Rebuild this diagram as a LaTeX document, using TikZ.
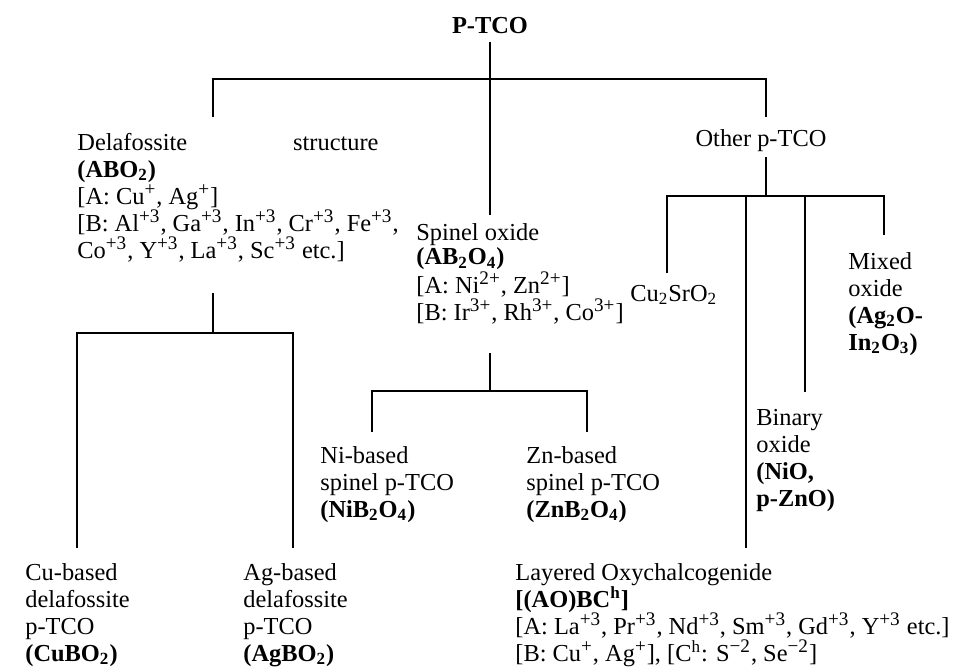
\documentclass[tikz,border=0pt]{standalone}
\usepackage{fontspec}
\setmainfont{Liberation Serif}
\newcommand{\chg}[1]{\textsuperscript{\fontsize{9.6}{10}\selectfont #1}}
\begin{document}
\begin{tikzpicture}[x=0.5pt,y=-0.5pt,
  txt/.style={inner sep=0pt, anchor=base west, align=left, font=\fontsize{12.2}{13.5}\selectfont},
  tight/.style={font=\fontsize{12.2}{12.25}\selectfont},
  link/.style={line width=1.1pt, black}]
\useasboundingbox (0,0) rectangle (954,671);
\fill[white] (0,0) rectangle (954,671);

% text nodes (multi-line nodes are placed by the baseline of their last line)
\node[txt, anchor=base] (ptco) at (490,33) {\textbf{P-TCO}};
\node[txt] (dela) at (77,258) {Delafossite\hspace{53pt}structure\\%
\textbf{(ABO\textsubscript{2})}\\%
{}[A: Cu\chg{+}, Ag\chg{+}]\\%
{}[B: Al\chg{+3}, Ga\chg{+3}, In\chg{+3}, Cr\chg{+3}, Fe\chg{+3},\\%
Co\chg{+3}, Y\chg{+3}, La\chg{+3}, Sc\chg{+3} etc.]};
\node[txt, tight] (spinel) at (416,320.5) {Spinel oxide\\%
\textbf{(AB\textsubscript{2}O\textsubscript{4})}\\%
{}[A: Ni\chg{2+}, Zn\chg{2+}]\\%
{}[B: Ir\chg{3+}, Rh\chg{3+}, Co\chg{3+}]};
\node[txt, anchor=base] (other) at (761,146.5) {Other p-TCO};
\node[txt] (cusr) at (630,301) {Cu\textsubscript{2}SrO\textsubscript{2}};
\node[txt] (mixed) at (848,350) {Mixed\\oxide\\\textbf{(Ag\textsubscript{2}O-}\\\textbf{In\textsubscript{2}O\textsubscript{3})}};
\node[txt] (binary) at (756,506) {Binary\\oxide\\\textbf{(NiO,}\\\textbf{p-ZnO)}};
\node[txt] (layered) at (515,661) {Layered Oxychalcogenide\\%
\textbf{[(AO)BC\textsuperscript{h}]}\\%
{}[A: La\chg{+3}, Pr\chg{+3}, Nd\chg{+3}, Sm\chg{+3}, Gd\chg{+3}, Y\chg{+3} etc.]\\%
{}[B: Cu\chg{+}, Ag\chg{+}], [C\textsuperscript{h}: S\chg{−2}, Se\chg{−2}]};
\node[txt] (cub) at (25,661) {Cu-based\\delafossite\\p-TCO\\\textbf{(CuBO\textsubscript{2})}};
\node[txt] (agb) at (243,661) {Ag-based\\delafossite\\p-TCO\\\textbf{(AgBO\textsubscript{2})}};
\node[txt] (nib) at (320,517) {Ni-based\\spinel p-TCO\\\textbf{(NiB\textsubscript{2}O\textsubscript{4})}};
\node[txt] (znb) at (526,517) {Zn-based\\spinel p-TCO\\\textbf{(ZnB\textsubscript{2}O\textsubscript{4})}};

% connector end points
\coordinate (ptco-b) at (490,42);
\coordinate (bar1) at (490,79);
\coordinate (dela-t) at (213,117);
\coordinate (other-t) at (766,117);
\coordinate (spinel-t) at (490,215);
\coordinate (dela-b) at (213,293);
\coordinate (bar2) at (213,333);
\coordinate (cub-t) at (77,548);
\coordinate (agb-t) at (293,548);
\coordinate (spinel-b) at (490,353);
\coordinate (bar3) at (490,391);
\coordinate (nib-t) at (372,432);
\coordinate (znb-t) at (587,432);
\coordinate (other-b) at (766,157);
\coordinate (bar4) at (766,196);
\coordinate (cusr-t) at (667,273);
\coordinate (layered-t) at (746,548);
\coordinate (binary-t) at (805,392);
\coordinate (mixed-t) at (884,235);

% connectors
\draw[link] (ptco-b) -- (spinel-t);
\draw[link] (dela-t) |- (bar1) -| (other-t);
\draw[link] (dela-b) -- (bar2);
\draw[link] (cub-t) |- (bar2) -| (agb-t);
\draw[link] (spinel-b) -- (bar3);
\draw[link] (nib-t) |- (bar3) -| (znb-t);
\draw[link] (other-b) -- (bar4);
\draw[link] (cusr-t) |- (bar4) -| (mixed-t);
\draw[link] (layered-t) -- (layered-t |- bar4);
\draw[link] (binary-t) -- (binary-t |- bar4);
\end{tikzpicture}
\end{document}
